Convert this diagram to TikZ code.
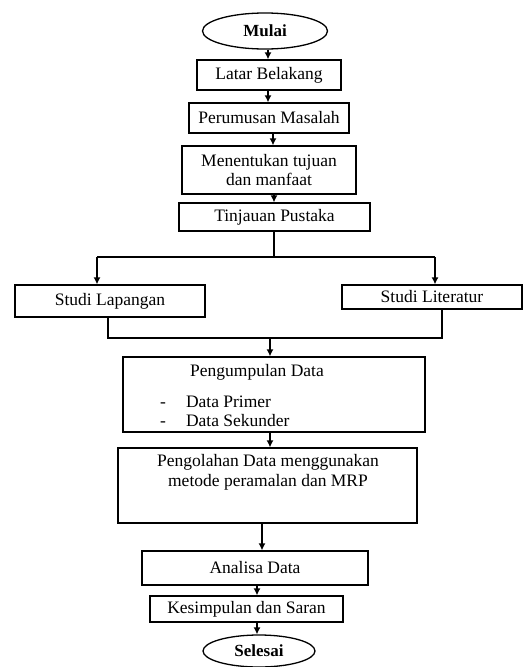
\documentclass[tikz,border=0pt]{standalone}
\usepackage{fontspec}
\setmainfont{Liberation Serif}
\usetikzlibrary{shapes.geometric,arrows.meta}
\begin{document}
\begin{tikzpicture}[x=1pt,y=-1pt,
  box/.style={draw, line width=1.3pt, rectangle, inner sep=0pt, align=center, font=\fontsize{17.5}{19.5}\selectfont},
  oval/.style={draw, line width=1.3pt, ellipse, inner sep=0pt, font=\fontsize{17}{20}\selectfont\bfseries},
  txt/.style={inner sep=0pt, align=center, font=\fontsize{17.5}{19.5}\selectfont},
  arr/.style={line width=1.3pt, -{Latex[length=7pt,width=7pt]}},
  ln/.style={line width=1.3pt}]
\useasboundingbox (0,0) rectangle (524,667);
\node[oval, minimum width=125, minimum height=36] (mulai) at (265,31) {Mulai};
\node[box, minimum width=144, minimum height=30] (latar) at (269,75) {Latar Belakang};
\node[box, minimum width=160, minimum height=30] (perum) at (269,118) {Perumusan Masalah};
\node[box, minimum width=174, minimum height=48] (tujuan) at (269,170) {Menentukan tujuan\\dan manfaat};
\node[box, minimum width=191, minimum height=28] (tinjau) at (274.5,217) {Tinjauan Pustaka};
\node[box, minimum width=190, minimum height=32] (lap) at (110,301) {Studi Lapangan};
\node[box, minimum width=180, minimum height=24] (lit) at (432,297) {Studi Literatur};
\node[box, minimum width=302, minimum height=75] (kumpul) at (274,394.5) {};
\node[txt] (kumpult) at (257,372) {Pengumpulan Data};
\node[txt, anchor=west] (primer) at (160,402) {-\hspace{20pt}Data Primer};
\node[txt, anchor=west] (sekunder) at (160,421) {-\hspace{20pt}Data Sekunder};
\node[box, minimum width=299, minimum height=75] (olah) at (267.5,485.5) {};
\node[txt] (olaht) at (268,472.5) {Pengolahan Data menggunakan\\metode peramalan dan MRP};
\node[box, minimum width=226, minimum height=34] (analisa) at (255,568) {Analisa Data};
\node[box, minimum width=193, minimum height=26] (simpul) at (246.5,609) {Kesimpulan dan Saran};
\node[oval, minimum width=112, minimum height=32] (selesai) at (259,651) {Selesai};
\coordinate (split) at (274,257);
\coordinate (jl) at (97,257);
\coordinate (jr) at (435,257);
\coordinate (ml) at (108,338);
\coordinate (mr) at (442,338);
\coordinate (mm) at (270,338);
\draw[arr] (mulai.south -| 268,0) -- (latar.north -| 268,0);
\draw[arr] (latar.south -| 268,0) -- (perum.north -| 268,0);
\draw[arr] (perum.south -| 273,0) -- (tujuan.north -| 273,0);
\draw[arr] (tujuan.south -| 274,0) -- (tinjau.north -| 274,0);
\draw[ln] (tinjau.south -| split) -- (split);
\draw[ln] (jl) -- (jr);
\draw[arr] (jl) -- (jl |- lap.north);
\draw[arr] (jr) -- (jr |- lit.north);
\draw[ln] (ml |- lap.south) -- (ml) -- (mr) -- (mr |- lit.south);
\draw[arr] (mm) -- (mm |- kumpul.north);
\draw[arr] (kumpul.south -| 270,0) -- (olah.north -| 270,0);
\draw[arr] (olah.south -| 262,0) -- (analisa.north -| 262,0);
\draw[arr] (analisa.south -| 257,0) -- (simpul.north -| 257,0);
\draw[arr] (simpul.south -| 257,0) -- (selesai.north -| 257,0);
\end{tikzpicture}
\end{document}
